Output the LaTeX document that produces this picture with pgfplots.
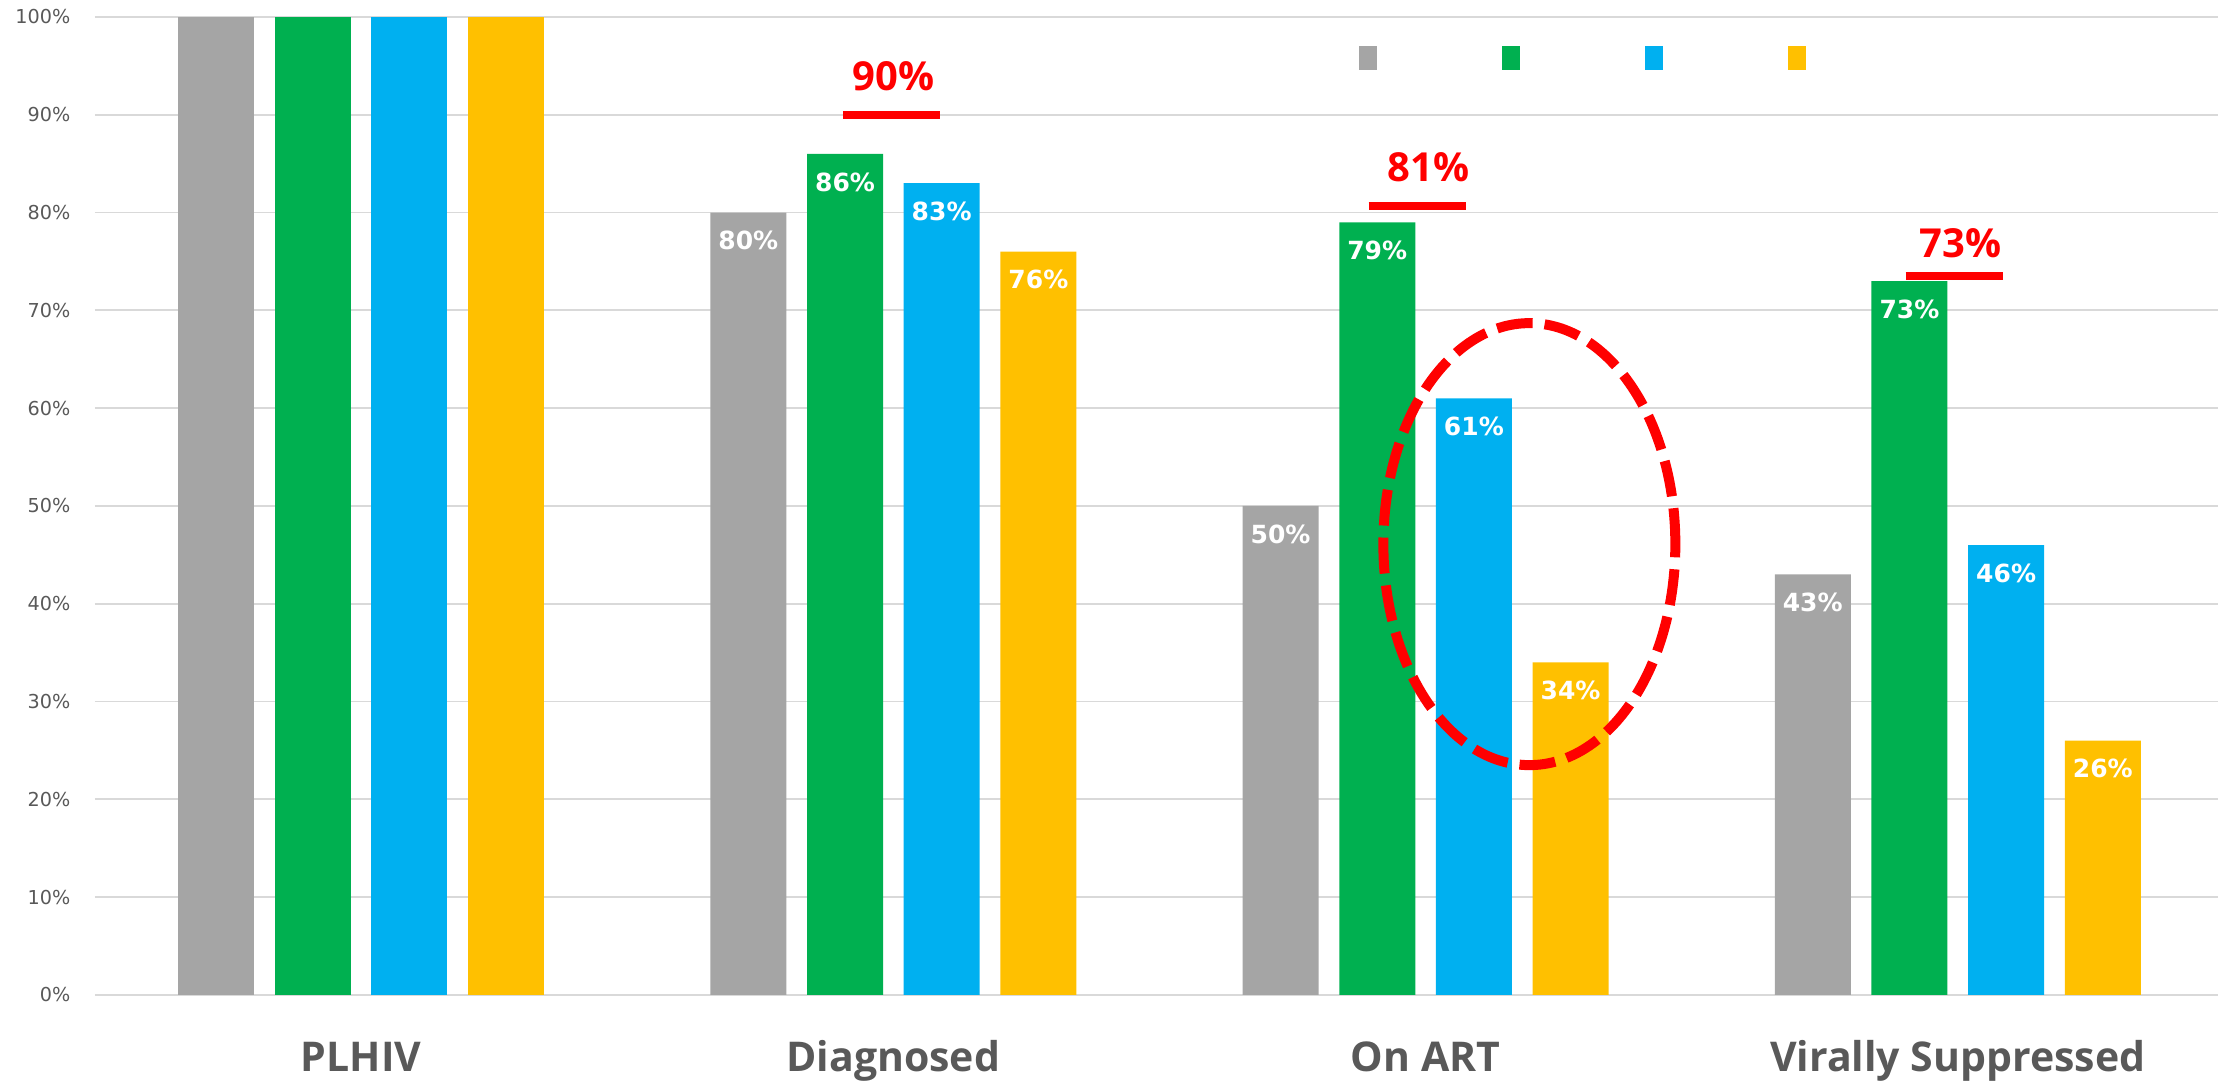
\documentclass[border=0pt]{standalone}
\usepackage{pgfplots}
\pgfplotsset{compat=1.18}
\usepackage{fontspec}
\setmainfont{DejaVu Sans}
\newfontfamily\opensans{Open Sans}
\definecolor{cgray}{HTML}{A5A5A5}
\definecolor{cgreen}{HTML}{00B050}
\definecolor{cblue}{HTML}{00B0F0}
\definecolor{cyellow}{HTML}{FFC000}
\definecolor{cgrid}{HTML}{D9D9D9}
\definecolor{ctext}{HTML}{595959}
\definecolor{cred}{HTML}{FF0000}
\begin{document}
\begin{tikzpicture}
\useasboundingbox (0,0) rectangle (1109pt,540.5pt);
\begin{axis}[
  at={(47.5pt,43pt)}, anchor=south west,
  scale only axis, width=1064.5pt, height=489pt,
  xmin=-0.5, xmax=3.5, ymin=0, ymax=100,
  /pgf/number format/assume math mode=true,
  axis line style={draw=none},
  major tick length=0pt,
  ymajorgrids, grid style={cgrid, line width=0.9pt},
  ytick={0,10,...,100},
  yticklabels={0\%,10\%,20\%,30\%,40\%,50\%,60\%,70\%,80\%,90\%,100\%},
  yticklabel style={font=\fontsize{9.6}{11}\selectfont, text=ctext, xshift=-8.8pt},
  xtick={0,1,2,3},
  xticklabels={PLHIV,Diagnosed,On ART,Virally Suppressed},
  xticklabel style={font=\opensans\bfseries\fontsize{20.5}{24}\selectfont, text=ctext, anchor=base, yshift=-38.5pt},
  mybar/.style={ybar, bar width=38pt, draw=none, fill=#1},
  lab/.style={nodes near coords={\pgfmathprintnumber{\pgfplotspointmeta}\%},
    every node near coord/.append style={font=\bfseries\fontsize{12.5}{15}\selectfont, text=white, anchor=center, xshift=#1, yshift=-14pt}},
  legend columns=4,
  legend style={at={(0.5937,0.958)}, anchor=west, draw=none, fill=none, inner sep=0pt,
    nodes={inner sep=0pt},
    /tikz/every odd column/.append style={column sep=0pt},
    /tikz/every even column/.append style={column sep=61.4pt}},
  legend image code/.code={\fill[#1] (0pt,-6pt) rectangle (9pt,6pt);},
]
% PLHIV (no labels)
\addplot[mybar=cgray, bar shift=-72.52pt, forget plot] coordinates {(0,100)};
\addplot[mybar=cgreen, bar shift=-24.16pt, forget plot] coordinates {(0,100)};
\addplot[mybar=cblue, bar shift=24.16pt, forget plot] coordinates {(0,100)};
\addplot[mybar=cyellow, bar shift=72.52pt, forget plot] coordinates {(0,100)};
% other stages
\addplot[mybar=cgray, bar shift=-72.52pt, lab=-72.52pt] coordinates {(1,80) (2,50) (3,43)};
\addlegendentry{}
\addplot[mybar=cgreen, bar shift=-24.16pt, lab=-24.16pt] coordinates {(1,86) (2,79) (3,73)};
\addlegendentry{}
\addplot[mybar=cblue, bar shift=24.16pt, lab=24.16pt] coordinates {(1,83) (2,61) (3,46)};
\addlegendentry{}
\addplot[mybar=cyellow, bar shift=72.52pt, lab=72.52pt] coordinates {(1,76) (2,34) (3,26)};
\addlegendentry{}
% targets
\addplot[cred, line width=4pt, forget plot] coordinates {(0.905,90) (1.088,90)};
\addplot[cred, line width=4pt, forget plot] coordinates {(1.893,80.7) (2.076,80.7)};
\addplot[cred, line width=4pt, forget plot] coordinates {(2.902,73.5) (3.085,73.5)};
\node[font=\opensans\bfseries\fontsize{20}{24}\selectfont, text=cred] at (axis cs:1.0,93.9) {90\%};
\node[font=\opensans\bfseries\fontsize{20}{24}\selectfont, text=cred] at (axis cs:2.006,84.6) {81\%};
\node[font=\opensans\bfseries\fontsize{20}{24}\selectfont, text=cred] at (axis cs:3.005,76.9) {73\%};
\draw[cred, line width=5pt, dash pattern=on 18pt off 6pt] (axis cs:2.195,46.1) ellipse [x radius=73pt, y radius=110.5pt];
\end{axis}
\end{tikzpicture}
\end{document}
